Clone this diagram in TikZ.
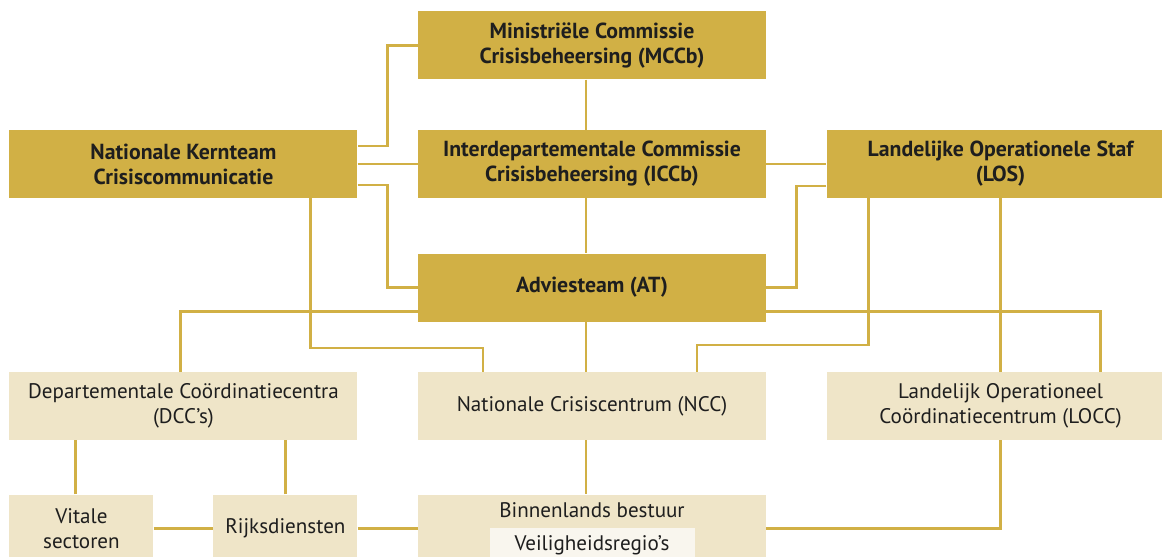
\documentclass[tikz,border=0pt]{standalone}
\usepackage{fontspec}
\setmainfont{PT Sans}
\usetikzlibrary{positioning}

\definecolor{gold}{HTML}{D1B045}
\definecolor{sand}{HTML}{EFE5C8}
\definecolor{cream}{HTML}{F9F6EE}
\definecolor{ink}{HTML}{1E1E1E}

\begin{document}
\begin{tikzpicture}[node distance=1.5cm,
        text=ink,
        font=\fontsize{15}{17.7}\selectfont,
        darkbox/.style={rectangle, fill=gold, align=center, minimum width=8.7cm, minimum height=1.7cm, inner sep=0pt, font=\fontsize{15.5}{17.7}\selectfont\bfseries},
        lightbox/.style={rectangle, fill=sand, align=center, minimum width=8.7cm, minimum height=1.7cm, inner sep=0pt},
        smallbox/.style={lightbox, minimum width=3.6cm},
        regiobox/.style={rectangle, fill=cream, minimum width=5.125cm, minimum height=0.9cm, inner sep=0pt},
        link/.style={draw=gold, line width=1.8pt}]

        \useasboundingbox (-14.8,4.1) rectangle (14.25,-9.8);

        %-----Commissies en staven-----

        % ICCb
        \node[darkbox] (iccb) at (0,0) {Interdepartementale Commissie\\Crisisbeheersing (ICCb)};

        % MCCb
        \node[darkbox, above=1.25cm of iccb] (mccb) {Ministriële Commissie\\Crisisbeheersing (MCCb)};

        % Nationale Kernteam
        \node[darkbox, left=of iccb] (nkc) {Nationale Kernteam\\Crisiscommunicatie};

        % LOS
        \node[darkbox, right=of iccb] (los) {Landelijke Operationele Staf\\(LOS)};

        % Adviesteam
        \node[darkbox, below=1.375cm of iccb] (at) {Adviesteam (AT)};

        %-----Centra-----

        % NCC
        \node[lightbox, below=1.25cm of at] (ncc) {Nationale Crisiscentrum (NCC)};

        % DCC
        \node[lightbox, left=of ncc] (dcc) {Departementale Coördinatiecentra\\(DCC’s)};

        % LOCC
        \node[lightbox, right=of ncc] (locc) {Landelijk Operationeel\\Coördinatiecentrum (LOCC)};

        % Binnenlands bestuur
        \node[lightbox, below=1.35cm of ncc] (bb) {};
        \node[anchor=base] (bbtext) at ([yshift=-5.75mm]bb.north) {Binnenlands bestuur};
        \node[regiobox, anchor=north] (regio) at ([yshift=-8.25mm]bb.north) {Veiligheidsregio’s};

        % Vitale sectoren
        \node[smallbox, below=1.35cm of dcc.south west, anchor=north west] (vitale) {Vitale\\sectoren};

        % Rijksdiensten
        \node[smallbox, below=1.35cm of dcc.south east, anchor=north east] (rijks) {Rijksdiensten};

        %-----Verbindingen-----

        % MCCb to Kernteam
        \draw[link] (mccb.west) -- ++(-0.75,0) |- ([yshift=4.5mm]nkc.east);

        % Kernteam to ICCb
        \draw[link] (nkc.east) -- (iccb.west);

        % Kernteam to Adviesteam
        \draw[link] ([yshift=-5.25mm]nkc.east) -- ++(0.75,0) |- (at.west);

        % ICCb to LOS
        \draw[link] (iccb.east) -- (los.west);

        % LOS to Adviesteam
        \draw[link] ([yshift=-5.5mm]los.west) -- ++(-0.75,0) |- (at.east);

        % middle column
        \draw[link] ([xshift=-1.5mm]mccb.south) -- ([xshift=-1.5mm]iccb.north);
        \draw[link] ([xshift=-1.5mm]iccb.south) -- ([xshift=-1.5mm]at.north);
        \draw[link] ([xshift=-1.5mm]at.south) -- ([xshift=-1.5mm]ncc.north);
        \draw[link] ([xshift=-1.5mm]ncc.south) -- ([xshift=-1.5mm]bb.north);

        % Adviesteam to DCC and LOCC
        \draw[link] ([yshift=-6mm]at.west) -| ([xshift=-0.75mm]dcc.north);
        \draw[link] ([yshift=-6mm]at.east) -| ([xshift=2.5cm]locc.north);

        % LOS to NCC
        \draw[link] ([xshift=1.05cm]los.south west) |- ([xshift=2.625cm, yshift=6.75mm]ncc.north) -- ([xshift=2.625cm]ncc.north);

        % LOS to LOCC
        \draw[link] (los.south) -- (locc.north);

        % Kernteam to NCC
        \draw[link] ([xshift=3.175cm]nkc.south) |- ([xshift=-2.725cm, yshift=6mm]ncc.north) -- ([xshift=-2.725cm]ncc.north);

        % DCC to Vitale sectoren and Rijksdiensten
        \draw[link] ([xshift=-1.5mm]vitale.north) -- ([xshift=-1.5mm]vitale.north |- dcc.south);
        \draw[link] (rijks.north) -- (rijks.north |- dcc.south);

        % bottom row
        \draw[link] (vitale.east) -- (rijks.west);
        \draw[link] (rijks.east) -- (bb.west);
        \draw[link] (locc.south) |- (bb.east);

    \end{tikzpicture}
\end{document}
